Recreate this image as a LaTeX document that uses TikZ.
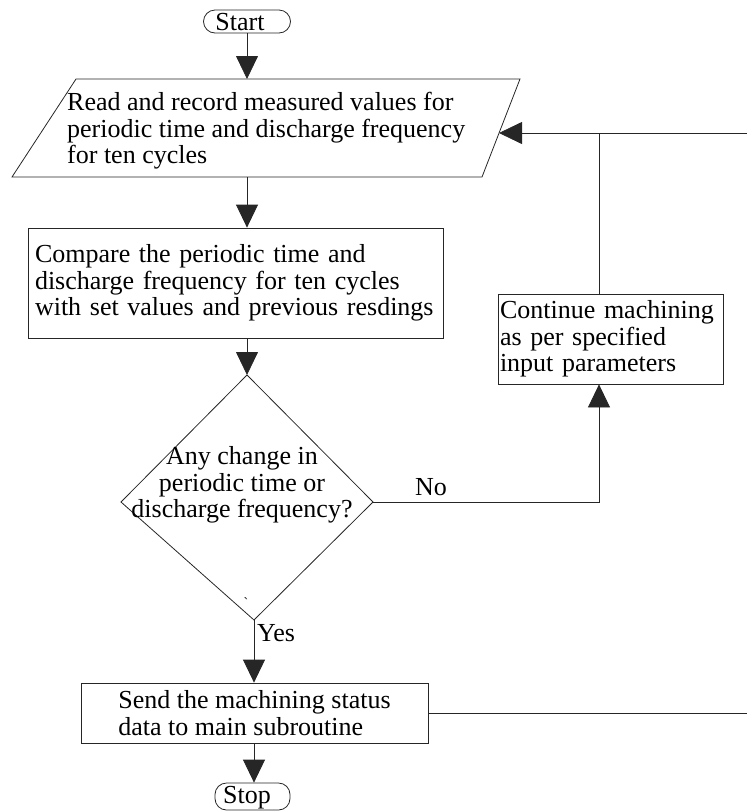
\documentclass[tikz,border=0pt]{standalone}
\usepackage{fontspec}
\setmainfont{Liberation Serif}
\usetikzlibrary{arrows.meta}

\begin{document}
\begin{tikzpicture}[x=1pt,y=-1pt,
  line/.style={draw=black!85, line width=0.8pt},
  arr/.style={line, -{Triangle[length=23pt,width=22pt]}},
  txt/.style={font=\fontsize{26}{26.5}\selectfont, inner sep=0pt, align=left},
  box/.style={line, rectangle, inner ysep=0pt},
  terminal/.style={line, rectangle, rounded corners=11.5pt, inner sep=0pt}]
\useasboundingbox (0,0) rectangle (747,812);

% start terminal
\node[terminal, minimum width=87pt, minimum height=23pt] (start) at (247,21.5) {};
\node[txt] (starttxt) at (240,22) {Start};

% input/output parallelogram
\coordinate (pTL) at (76,79);
\coordinate (pTR) at (520,79);
\coordinate (pBR) at (482,177);
\coordinate (pBL) at (12,177);
\draw[line] (pTL) -- (pTR) -- (pBR) -- (pBL) -- cycle;
\node[txt, anchor=west] (read) at (67,131)
  {Read and record measured values for\\periodic time and discharge frequency\\for ten cycles};
\coordinate (pin) at (247,79);
\coordinate (pout) at (247,177);
\coordinate (pside) at (499,133);

% comparison step
\node[box, txt, minimum width=415pt, minimum height=110pt, text width=401pt, inner xsep=7pt]
  (compare) at (235.5,283)
  {Compare the periodic time and\\discharge frequency for ten cycles\\with set values and previous resdings};

% decision
\coordinate (dT) at (247,375);
\coordinate (dR) at (373,502);
\coordinate (dB) at (254,620);
\coordinate (dL) at (121,502);
\draw[line] (dT) -- (dR) -- (dB) -- (dL) -- cycle;
\node[txt, align=center] (question) at (242,485)
  {Any change in\\periodic time or\\discharge frequency?};
\node[font=\fontsize{14}{14}\selectfont, inner sep=0pt] (tick) at (246,603) {\textasciigrave};

% continue step
\node[box, txt, minimum width=225pt, minimum height=90pt, text width=221pt, inner xsep=2pt]
  (cont) at (610.5,339)
  {Continue machining\\as per specified\\input parameters};

% send step
\node[box, txt, minimum width=347pt, minimum height=60pt] (send) at (254.5,713)
  {Send the machining status\\data to main subroutine};

% stop terminal
\node[terminal, minimum width=75pt, minimum height=27pt] (stop) at (252.5,796.5) {};
\node[txt] (stoptxt) at (247,798) {Stop};

% connectors
\coordinate (noCorner) at (599,502);
\coordinate (exitTop) at (747,133);
\coordinate (exitBottom) at (747,713);

\draw[arr] (start.south) -- (pin);
\draw[arr] (pout) -- (pout |- compare.north);
\draw[arr] (compare.south -| dT) -- (dT);
\draw[arr] (dR) -- (noCorner) -- (noCorner |- cont.south);
\node[txt] (no) at (431,487) {No};
\draw[arr] (noCorner |- cont.north) -- (noCorner |- pside) -- (pside);
\draw[line] (noCorner |- pside) -- (exitTop);
\draw[arr] (dB) -- (dB |- send.north);
\node[txt] (yes) at (276,633) {Yes};
\draw[line] (send.east) -- (exitBottom);
\draw[arr] (send.south -| dB) -- (dB |- stop.north);
\end{tikzpicture}
\end{document}
